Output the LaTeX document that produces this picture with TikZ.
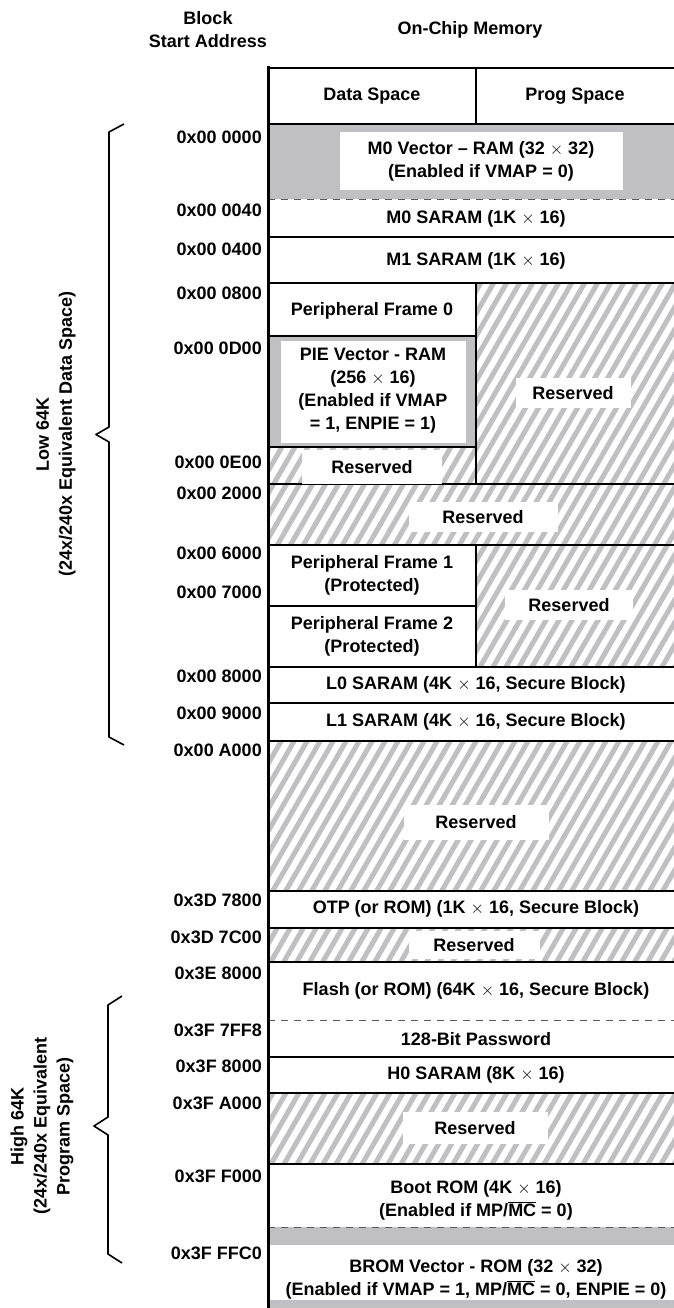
\documentclass[tikz,border=0pt]{standalone}
\usepackage{fontspec}
\setmainfont{Liberation Sans}
\usetikzlibrary{positioning}
\definecolor{hatchgray}{RGB}{192,192,194}
\definecolor{vecgray}{RGB}{192,192,194}
\newcommand{\ovl}[1]{\ensuremath{\overline{\mbox{#1}}}}
% hatched (reserved) area: x1,y1,x2,y2
\newcommand{\hatchbox}[4]{%
  \begin{scope}
    \clip (#1,#2) rectangle (#3,#4);
    \foreach \s in {-820,-807,...,700}
      \draw[hatchline] (\s,1320) -- ++(762,-1320);
  \end{scope}}
\tikzset{
  every node/.style={font=\fontsize{18}{23}\selectfont\bfseries, inner sep=0pt},
  rowline/.style={line width=2pt},
  border/.style={line width=3pt},
  dashline/.style={line width=0.9pt, black!65, dash pattern=on 7pt off 6pt},
  hatchline/.style={line width=5pt, hatchgray},
  lbl/.style={align=center},
  addr/.style={anchor=east},
  rsv/.style={fill=white, minimum height=30pt},
}
\begin{document}
\begin{tikzpicture}[x=1pt,y=-1pt]
  \useasboundingbox (0,0) rectangle (674,1308);
  % fills
  \fill[vecgray] (268,124) rectangle (690,199);
  \fill[white] (340,132) rectangle (623,190);
  \fill[vecgray] (268,336) rectangle (476,447);
  \fill[white] (281,341) rectangle (466,443);
  \fill[vecgray] (268,1227) rectangle (690,1308);
  \fill[white] (268,1245) rectangle (690,1300);
  \hatchbox{476}{283}{690}{484}
  \hatchbox{268}{447}{476}{484}
  \hatchbox{268}{484}{690}{545}
  \hatchbox{476}{545}{690}{667}
  \hatchbox{268}{741}{690}{891}
  \hatchbox{268}{928}{690}{962}
  \hatchbox{268}{1093}{690}{1164}
  % row lines
  \begin{scope}[rowline]
    \foreach \y in {68,124,237,283,484,545,667,703,741,891,928,962,1057,1093,1164}
      \draw (268,\y) -- (690,\y);
    \foreach \y in {336,447,606}
      \draw (268,\y) -- (476,\y);
    \draw (476,68) -- (476,124);
    \draw (476,283) -- (476,484);
    \draw (476,545) -- (476,667);
  \end{scope}
  \foreach \y in {199,1020,1227}
    \draw[dashline] (268,\y) -- (690,\y);
  \draw[border] (268,66.5) -- (268,1310);
  % headings
  \node[lbl] (blockhd) at (208,30) {Block\\Start Address};
  \node (chiphd) at (470,30) {On-Chip Memory};
  \node (datahd) at (372,96) {Data Space};
  \node (proghd) at (575,96) {Prog Space};
  % blocks
  \node[lbl] (m0vec) at (481,161) {M0 Vector -- RAM (32 $\times$ 32)\\(Enabled if VMAP = 0)};
  \node (m0) at (476,219) {M0 SARAM (1K $\times$ 16)};
  \node (m1) at (476,261) {M1 SARAM (1K $\times$ 16)};
  \node (pf0) at (372,311) {Peripheral Frame 0};
  \node[lbl] (pievec) at (373,391) {PIE Vector - RAM\\(256 $\times$ 16)\\(Enabled if VMAP\\= 1, ENPIE = 1)};
  \node[rsv, minimum width=115pt] (rsva) at (573,393) {Reserved};
  \node[rsv, minimum width=140pt, minimum height=34pt] (rsvb) at (372,467) {Reserved};
  \node[rsv, minimum width=149pt] (rsvc) at (483,517) {Reserved};
  \node[lbl] (pf1) at (372,575) {Peripheral Frame 1\\(Protected)};
  \node[lbl] (pf2) at (372,636) {Peripheral Frame 2\\(Protected)};
  \node[rsv, minimum width=128pt] (rsvd) at (569,605) {Reserved};
  \node (l0) at (476,685) {L0 SARAM (4K $\times$ 16, Secure Block)};
  \node (l1) at (476,722) {L1 SARAM (4K $\times$ 16, Secure Block)};
  \node[rsv, minimum width=145pt, minimum height=35pt] (rsve) at (476,822) {Reserved};
  \node (otp) at (476,909) {OTP (or ROM) (1K $\times$ 16, Secure Block)};
  \node[rsv, minimum width=131pt, minimum height=28pt] (rsvf) at (474,945) {Reserved};
  \node (flash) at (476,991) {Flash (or ROM) (64K $\times$ 16, Secure Block)};
  \node (pwd) at (476,1039) {128-Bit Password};
  \node (h0) at (476,1075) {H0 SARAM (8K $\times$ 16)};
  \node[rsv, minimum width=145pt, minimum height=32pt] (rsvg) at (475,1128) {Reserved};
  \node[lbl] (boot) at (476,1200) {Boot ROM (4K $\times$ 16)\\(Enabled if MP/\ovl{MC} = 0)};
  \node[lbl] (bromvec) at (476,1279) {BROM Vector - ROM (32 $\times$ 32)\\(Enabled if VMAP = 1, MP/\ovl{MC} = 0, ENPIE = 0)};
  % start addresses
  \foreach \y/\a in {137/0x00 0000, 210/0x00 0040, 249/0x00 0400, 293/0x00 0800,
      348/0x00 0D00, 462/0x00 0E00, 493/0x00 2000, 553/0x00 6000, 592/0x00 7000,
      676/0x00 8000, 713/0x00 9000, 750/0x00 A000, 900/0x3D 7800, 937/0x3D 7C00,
      973/0x3E 8000, 1030/0x3F 7FF8, 1066/0x3F 8000, 1103/0x3F A000,
      1176/0x3F F000, 1253/0x3F FFC0}
    \node[addr] (a\y) at (262,\y) {\a};
  % braces
  \coordinate (lowtop) at (124,124);
  \coordinate (lowtip) at (96,434.5);
  \coordinate (lowbot) at (124,745);
  \draw[line width=1.6pt, line join=round] (lowtop) -- (109,132) -- (109,427) -- (lowtip)
    -- (109,442) -- (109,737) -- (lowbot);
  \node[lbl, rotate=90] (lowtxt) at (56,434) {Low 64K\\(24x/240x Equivalent Data Space)};
  \coordinate (hightop) at (122,996);
  \coordinate (hightip) at (94,1126);
  \coordinate (highbot) at (122,1263);
  \draw[line width=1.6pt, line join=round] (hightop) -- (108,1005) -- (108,1117) -- (hightip)
    -- (108,1135) -- (108,1254) -- (highbot);
  \node[lbl, rotate=90] (hightxt) at (42,1126) {High 64K\\(24x/240x Equivalent\\Program Space)};
\end{tikzpicture}
\end{document}
